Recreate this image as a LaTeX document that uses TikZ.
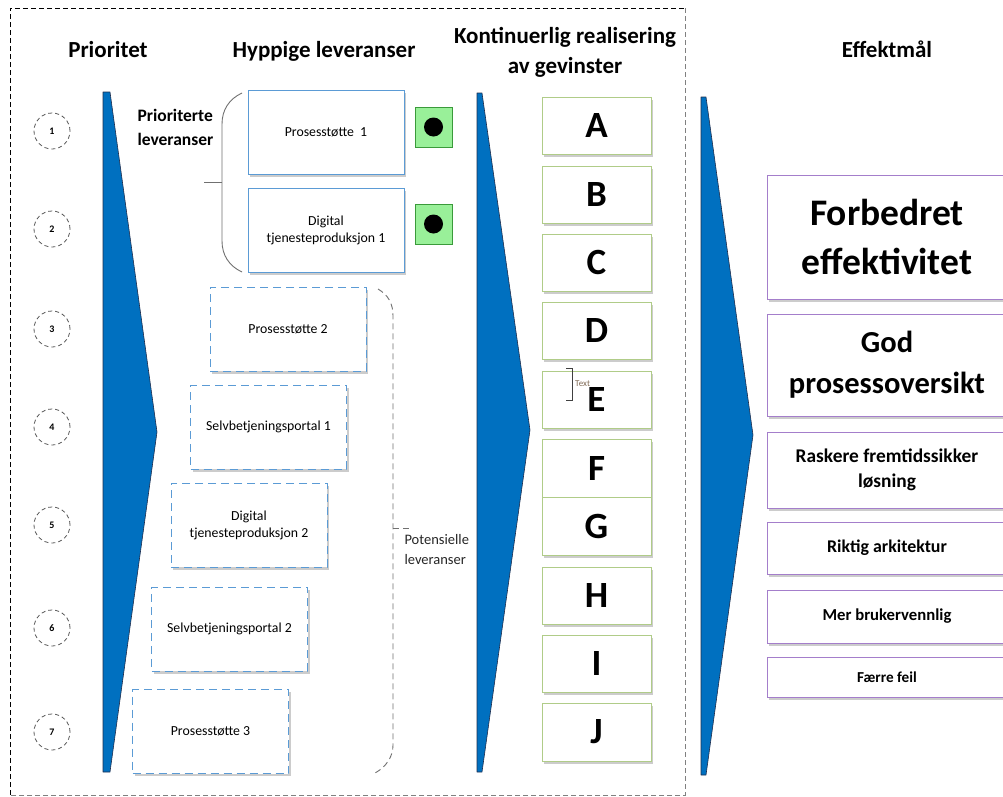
\documentclass[tikz,border=0pt]{standalone}
\usepackage{fontspec}
\setmainfont{Carlito}
\definecolor{chev}{HTML}{0070C0}
\definecolor{chevline}{HTML}{1F2F4F}
\definecolor{boxblue}{HTML}{5B9BD5}
\definecolor{sqfill}{HTML}{99F099}
\definecolor{sqline}{HTML}{3A9A3A}
\definecolor{letline}{HTML}{B0CC88}
\definecolor{goalline}{HTML}{A47ECB}
\definecolor{braceline}{HTML}{707070}
\definecolor{textlbl}{HTML}{806A55}
\begin{document}
\begin{tikzpicture}[x=1pt,y=-1pt,
  shad/.style={preaction={draw=none, fill=black, opacity=0.2, transform canvas={xshift=2pt, yshift=-2.5pt}}},
  title/.style={anchor=base, font=\bfseries\fontsize{23}{27}\selectfont},
  prio/.style={draw=boxblue, line width=1pt, fill=white, minimum width=156pt, minimum height=84pt,
    inner sep=0pt, align=center, font=\fontsize{13.8}{17}\selectfont, shad},
  pot/.style={prio, dash pattern=on 8pt off 5pt},
  circ/.style={circle, draw=gray!70!black, dash pattern=on 4pt off 3pt, line width=0.8pt,
    minimum size=36pt, inner sep=0pt, font=\bfseries\fontsize{10}{12}\selectfont},
  sq/.style={draw=sqline, fill=sqfill, line width=1pt, minimum width=37pt, minimum height=40pt, inner sep=0pt},
  dot/.style={circle, fill=black, minimum size=19pt, inner sep=0pt},
  letter/.style={draw=letline, line width=1pt, fill=white, minimum width=109pt, inner sep=0pt,
    font=\bfseries\fontsize{37}{40}\selectfont, shad},
  goal/.style={draw=goalline, line width=1pt, fill=white, minimum width=240pt, inner sep=0pt,
    align=center, shad},
  chevron/.style={fill=chev, draw=chevline, line width=0.6pt, line join=round},
  brace/.style={draw=braceline, line width=0.9pt}
]
\useasboundingbox (0,0) rectangle (1003,796);
\clip (0,0) rectangle (1003,796);
\fill[white] (0,0) rectangle (1003,796);

% outer dashed frame
\draw[black, line width=0.8pt, dash pattern=on 5pt off 3pt] (10,795) -- (10,8) -- (685,8);
\draw[gray, line width=0.8pt, dash pattern=on 5pt off 3pt] (685,8) -- (685,795) -- (10,795);

% titles
\node[title] (tPrio) at (108,57) {Prioritet};
\node[title] (tHyp) at (324,57) {Hyppige leveranser};
\node[title] (tKont1) at (565,43) {Kontinuerlig realisering};
\node[title] (tKont2) at (565,73) {av gevinster};
\node[title] (tEff) at (887,57) {Effektmål};

% priority circles
\node[circ] (c1) at (52,131) {1};
\node[circ] (c2) at (52,229) {2};
\node[circ] (c3) at (52,329) {3};
\node[circ] (c4) at (52,427) {4};
\node[circ] (c5) at (52,525) {5};
\node[circ] (c6) at (52,628) {6};
\node[circ] (c7) at (52,732) {7};

% chevrons
\draw[chevron] (103,92) -- (110,92) -- (157,432) -- (110,772) -- (103,772) -- cycle;
\draw[chevron] (477,93) -- (482,93) -- (530,430) -- (482,772) -- (477,772) -- cycle;
\draw[chevron] (701,97) -- (706,97) -- (753,435) -- (706,775) -- (701,775) -- cycle;

% prioritised deliveries
\node[anchor=north west, align=left, font=\bfseries\fontsize{17.5}{24}\selectfont] (plbl) at (134,106) {Prioriterte\\leveranser};
\draw[brace] (242,93) .. controls (229,99) and (222,110) .. (222,124) -- (222,241) .. controls (222,255) and (229,266) .. (242,272);
\draw[brace] (222,182) -- (204,182);
\node[prio] (p1) at (326,132) {Prosesstøtte~~1};
\node[prio] (p2) at (326,230) {Digital\\tjenesteproduksjon 1};
\node[sq] (s1) at (433.5,127) {};
\node[dot] (d1) at (s1.center) {};
\node[sq] (s2) at (433.5,224) {};
\node[dot] (d2) at (s2.center) {};

% potential deliveries
\node[pot] (q1) at (288,329) {Prosesstøtte 2};
\node[pot] (q2) at (268.5,427) {Selvbetjeningsportal 1};
\node[pot] (q3) at (249,525) {Digital\\tjenesteproduksjon 2};
\node[pot] (q4) at (229.5,629) {Selvbetjeningsportal 2};
\node[pot] (q5) at (210.5,731.5) {Prosesstøtte 3};
\draw[brace, dash pattern=on 6pt off 4pt] (378,289) .. controls (388,295) and (393,303) .. (393,316) -- (393,745) .. controls (393,757) and (386,767) .. (375,773);
\draw[brace, dash pattern=on 6pt off 4pt] (393,528) -- (412,528);
\node[anchor=north west, align=left, font=\fontsize{14.5}{19.5}\selectfont, text=black!85] (potlbl) at (401,531) {Potensielle\\leveranser};

% benefits A-J
\node[letter, minimum height=57pt] (A) at (596.5,125.5) {A};
\node[letter, minimum height=57pt] (B) at (596.5,194.5) {B};
\node[letter, minimum height=57pt] (C) at (596.5,262.5) {C};
\node[letter, minimum height=57pt] (D) at (596.5,330.5) {D};
\node[letter, minimum height=57pt] (E) at (596.5,399.5) {E};
\node[letter, minimum height=58pt] (F) at (596.5,468) {F};
\node[letter, minimum height=58pt] (G) at (596.5,526) {G};
\node[letter, minimum height=57pt] (H) at (596.5,595.5) {H};
\node[letter, minimum height=57pt] (I) at (596.5,663.5) {I};
\node[letter, minimum height=58pt] (J) at (596.5,732) {J};
\draw[black!75, line width=0.8pt] (566,368) -- (572,368) -- (572,400) -- (566,400);
\node[anchor=west, inner sep=0pt, font=\fontsize{9}{10}\selectfont, text=textlbl] (txt) at (575,384) {Text};

% effect goals
\node[goal, minimum height=124pt, font=\bfseries\fontsize{37.5}{49}\selectfont] (g1) at (887,237) {Forbedret\\effektivitet};
\node[goal, minimum height=102pt, font=\bfseries\fontsize{30.5}{41}\selectfont] (g2) at (887,365) {God\\prosessoversikt};
\node[goal, minimum height=76pt, font=\bfseries\fontsize{19.4}{25}\selectfont] (g3) at (887,470) {Raskere fremtidssikker\\løsning};
\node[goal, minimum height=52pt, font=\bfseries\fontsize{17.9}{20}\selectfont] (g4) at (887,548) {Riktig arkitektur};
\node[goal, minimum height=53pt, font=\bfseries\fontsize{16.7}{20}\selectfont] (g5) at (887,616.5) {Mer brukervennlig};
\node[goal, minimum height=40pt, font=\bfseries\fontsize{15.2}{18}\selectfont] (g6) at (887,677) {Færre feil};
\end{tikzpicture}
\end{document}
